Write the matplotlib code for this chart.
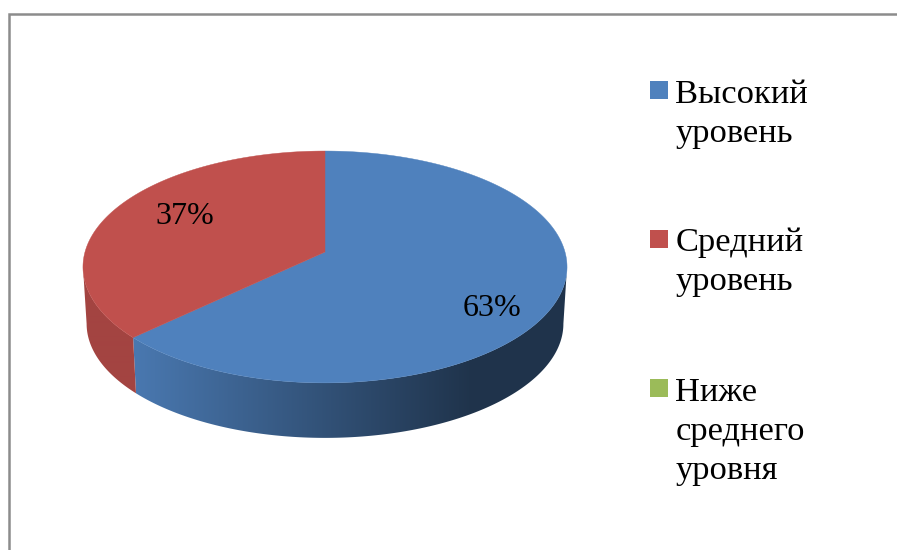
import numpy as np
import matplotlib
matplotlib.use("Agg")
import matplotlib.pyplot as plt
from matplotlib.patches import Polygon, Rectangle

plt.rcParams['font.family'] = ['Liberation Serif', 'DejaVu Serif']

labels = ["Высокий\nуровень", "Средний\nуровень", "Ниже\nсреднего\nуровня"]
values = [63, 37, 0]
value_labels = ["63%", "37%", None]
colors = ["#4f81bd", "#c0504d", "#9bbb59"]

# pie geometry in pixels, tilted circle with a bit of perspective
cx, cy = 325, 252
rx, ry = 240, 114
persp = 0.129
depth = 55
shrink = 0.985

def project(t):
    u, v = np.sin(t), np.cos(t)
    w = 1 + persp * v
    return cx + rx * u / w, cy - ry * v / w

def lower(x, y):
    return cx + (x - cx) * shrink, y + depth + (383 - y) * (1 - shrink)

fig = plt.figure(figsize=(8.97, 5.5), dpi=100)
ax = fig.add_axes([0, 0, 1, 1])

# chart frame, open on the right and bottom
ax.plot([9.2, 9.2, 897], [550, 14.3, 14.3], color="#8c8c8c", lw=1.8, solid_joinstyle="miter")

total = sum(values)
start = 0.0
shade = [(0.40, 0.93), (0.85, 0.85), (1, 1)]
# the rim is only seen between the two widest points of the ellipse
front_a = np.arccos(-persp)
front_b = 2 * np.pi - front_a
grad_x = np.arange(60, 600)
tops = []
for val, col, (lo, hi) in zip(values, colors, shade):
    if val == 0:
        continue
    end = start + 2 * np.pi * val / total
    x, y = project(np.linspace(start, end, 400))
    tops.append((np.r_[cx, x], np.r_[cy, y], col))

    sx, sy = project(np.linspace(max(start, front_a), min(end, front_b), 300))
    lx, ly = lower(sx, sy)
    f = np.clip((grad_x - 135) / (470 - 135), 0, 1)
    rgb = np.array(matplotlib.colors.to_rgb(col))
    grad = (rgb[None, :] * (hi + (lo - hi) * f)[:, None])[None, :, :]
    im = ax.imshow(grad, extent=(60, 600, 460, 140), aspect="auto", interpolation="bilinear", zorder=2)
    side = Polygon(np.c_[np.r_[sx, lx[::-1]], np.r_[sy, ly[::-1]]], closed=True,
                   transform=ax.transData, facecolor="none", edgecolor="none")
    ax.add_patch(side)
    im.set_clip_path(side)
    start = end

for x, y, col in tops:
    ax.add_patch(Polygon(np.c_[x, y], closed=True, facecolor=col, edgecolor=col, lw=0.3, zorder=3))

ax.text(491.5, 309, value_labels[0], fontsize=23, ha="center", va="center", color="black", zorder=4)
ax.text(185, 217, value_labels[1], fontsize=23, ha="center", va="center", color="black", zorder=4)

# legend
legend_y = [90, 239, 388]
last_baseline = [141.7, 290, 479]
for lab, col, ky, by in zip(labels, colors, legend_y, last_baseline):
    ax.add_patch(Rectangle((650, ky - 9), 18, 18, facecolor=col, edgecolor="none", zorder=3))
    ax.text(675.5, by, lab, fontsize=24.8, ha="left", va="baseline", linespacing=1.358, color="black")

ax.set_xlim(0, 897)
ax.set_ylim(550, 0)
ax.axis("off")

fig.savefig("out.png", dpi=100)
